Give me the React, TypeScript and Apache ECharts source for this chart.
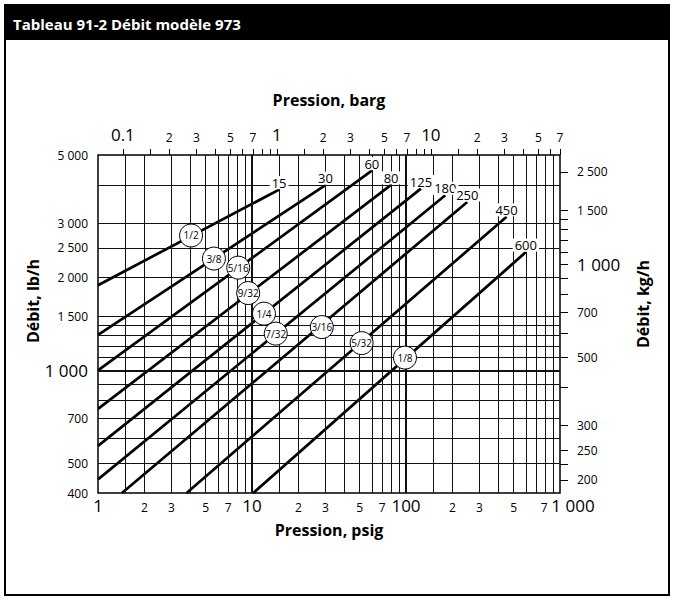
import React, { useEffect, useRef } from "react";
import * as echarts from "echarts";

const FONT = "'Open Sans', Lato, sans-serif";
const PSI_PER_BAR = 14.5038;
const LB_PER_KG = 2.20462;

// Axis ranges
const psigMin = 1;
const psigMax = 1000;
const lbMin = 400;
const lbMax = 5000;

// Grid lines (psig, lb/h)
const psigGridLines = [1.5, 2, 3, 4, 5, 6, 7, 8, 9, 10, 15, 20, 30, 40, 50, 60, 70, 80, 90, 100, 150, 200, 300, 400, 500, 600, 700, 800, 900];
const lbGridLines = [500, 600, 700, 800, 900, 1000, 1100, 1200, 1300, 1400, 1500, 2000, 2500, 3000, 4000];
const thickPsig = [10, 100];
const thickLb = [1000];

// Bottom axis (psig)
const psigLabelValues = [1, 2, 3, 5, 7, 10, 20, 30, 50, 70, 100, 200, 300, 500, 700];
const psigLabels = ["1", "2", "3", "5", "7", "10", "2", "3", "5", "7", "100", "2", "3", "5", "7"];
const psigEndLabelValue = 1000;
const psigEndLabel = "1 000";

// Top axis (barg)
const bargTickValues = [0.1, 0.15, 0.2, 0.3, 0.4, 0.5, 0.6, 0.7, 0.8, 0.9, 1, 1.5, 2, 3, 4, 5, 6, 7, 8, 9, 10, 15, 20, 30, 40, 50, 60, 70];
const bargLabelValues = [0.1, 0.2, 0.3, 0.5, 0.7, 1, 2, 3, 5, 7, 10, 20, 30, 50, 70];
const bargLabels = ["0.1", "2", "3", "5", "7", "1", "2", "3", "5", "7", "10", "2", "3", "5", "7"];

// Left axis (lb/h)
const lbLabelValues = [400, 500, 700, 1000, 1500, 2000, 2500, 3000, 5000];
const lbLabels = ["400", "500", "700", "1 000", "1 500", "2 000", "2 500", "3 000", "5 000"];

// Right axis (kg/h)
const kgTickValues = [200, 225, 250, 300, 400, 500, 600, 700, 800, 900, 1000, 1100, 1200, 1300, 1400, 1500, 2000];
const kgLabelValues = [200, 250, 300, 500, 700, 1000, 1500, 2000];
const kgLabels = ["200", "250", "300", "500", "700", "1 000", "1 500", "2 500"];

// Flow lines: start / end (psig, lb/h) and max-pressure labels
const endLabels = ["15", "30", "60", "80", "125", "180", "250", "450", "600"];
const startPsig = [1, 1, 1, 1, 1, 1, 1.43, 3.76, 10.2];
const startFlow = [1890, 1305, 1000, 750, 569, 443, 400, 400, 400];
const endPsig = [15, 30, 60, 80, 125, 180, 250, 450, 600];
const endFlow = [3860, 3990, 4450, 4000, 3890, 3700, 3520, 3150, 2420];

// Orifice markers
const orificeLabels = ["1/2", "3/8", "5/16", "9/32", "1/4", "7/32", "3/16", "5/32", "1/8"];
const orificePsig = [4.02, 5.66, 8.14, 9.45, 11.96, 14.26, 28.4, 51.5, 98.5];
const orificeFlow = [2740, 2306, 2155, 1782, 1528, 1316, 1382, 1226, 1100];

const lookup = (vals: number[], labels: string[]) => (v: number) => {
  let best = 0;
  let bd = Infinity;
  vals.forEach((x, i) => {
    const d = Math.abs(Math.log(x) - Math.log(v));
    if (d < bd) {
      bd = d;
      best = i;
    }
  });
  return { label: labels[best], index: best };
};

const isPow10 = (s: string) => ["0.1", "1", "10", "100", "1 000"].includes(s);

export default function App() {
  const ref = useRef<HTMLDivElement>(null);

  useEffect(() => {
    if (!ref.current) return;
    const chart = echarts.init(ref.current, undefined, { renderer: "svg" });

    const EPS = 1e-5;
    const bargMin = psigMin / PSI_PER_BAR;
    const bargMax = psigMax / PSI_PER_BAR;
    const clampB = (v: number) => Math.min(Math.max(v, bargMin * (1 + EPS)), bargMax * (1 - EPS));
    const clampP = (v: number) => Math.min(Math.max(v, psigMin * (1 + EPS)), psigMax * (1 - EPS));
    const bargTicksC = bargTickValues.map(clampB);
    const bargLabelsC = bargLabelValues.map(clampB);
    const psigLabelsC = psigLabelValues.map(clampP);
    const kgMin = lbMin / LB_PER_KG;
    const kgMax = lbMax / LB_PER_KG;

    const psigLook = lookup(psigLabelsC, psigLabels);
    const bargLook = lookup(bargLabelsC, bargLabels);
    const lbLook = lookup(lbLabelValues, lbLabels);
    const kgLook = lookup(kgLabelValues, kgLabels);

    const lineSeries = endLabels.map((name, i) => ({
      type: "line",
      name: "p" + name,
      xAxisIndex: 0,
      yAxisIndex: 0,
      data: [
        [startPsig[i], startFlow[i]],
        [endPsig[i], endFlow[i]],
      ],
      symbol: "none",
      silent: true,
      clip: true,
      lineStyle: { color: "#000", width: 2.7 },
      z: 3,
    }));

    const gridMarks: any[] = [
      ...psigGridLines.map((v) => ({
        xAxis: v,
        lineStyle: { color: "#111", width: thickPsig.includes(v) ? 2 : 1, type: "solid" },
      })),
      ...lbGridLines.map((v) => ({
        yAxis: v,
        lineStyle: { color: "#111", width: thickLb.includes(v) ? 2 : 1, type: "solid" },
      })),
    ];

    const labelCommon = { showMinLabel: true, showMaxLabel: true, hideOverlap: false };
    const bigStyle = { fontSize: 17, color: "#000", fontFamily: FONT };
    const smallStyle = { fontSize: 12, color: "#000", fontFamily: FONT };

    const option: any = {
      animation: false,
      backgroundColor: "#fff",
      textStyle: { fontFamily: FONT },
      grid: {
        left: 98,
        top: 155,
        width: 462,
        height: 338,
        show: true,
        borderColor: "#000",
        borderWidth: 1.5,
        backgroundColor: "transparent",
        z: 4,
      },
      xAxis: [
        {
          type: "log",
          logBase: 10,
          min: psigMin,
          max: psigMax,
          position: "bottom",
          axisLine: { show: false },
          axisTick: { show: false },
          splitLine: { show: false },
          minorTick: { show: false },
          axisLabel: {
            ...labelCommon,
            customValues: psigLabelsC,
            margin: 4,
            formatter: (v: number) => {
              const { label, index } = psigLook(v);
              if (index === psigLabels.length - 1) return "{smallR|" + label + "}";
              return isPow10(label) ? "{big|" + label + "}" : "{small|" + label + "}";
            },
            rich: {
              big: bigStyle,
              small: { ...smallStyle, padding: [4, 0, 0, 0] },
              smallR: { ...smallStyle, padding: [4, 0, 0, 16] },
            },
          },
        },
        {
          type: "log",
          logBase: 10,
          min: bargMin,
          max: bargMax,
          position: "top",
          axisLine: { show: false },
          axisTick: {
            show: true,
            inside: false,
            length: 6,
            customValues: bargTicksC,
            lineStyle: { color: "#000", width: 1 },
          },
          splitLine: { show: false },
          axisLabel: {
            ...labelCommon,
            customValues: bargLabelsC,
            margin: 12,
            verticalAlign: "bottom",
            formatter: (v: number) => {
              const { label, index } = bargLook(v);
              const big = index === 0 || label === "1" || label === "10";
              return big ? "{big|" + label + "}" : "{small|" + label + "}";
            },
            rich: { big: bigStyle, small: smallStyle },
          },
        },
        {
          type: "log",
          logBase: 10,
          min: psigMin,
          max: psigMax,
          position: "bottom",
          axisLine: { show: false },
          axisTick: { show: false },
          splitLine: { show: false },
          axisLabel: {
            ...labelCommon,
            customValues: [clampP(psigEndLabelValue)],
            margin: 4,
            formatter: () => "{bigR|" + psigEndLabel + "}",
            rich: { bigR: { ...bigStyle, padding: [0, 0, 0, 26] } },
          },
        },
      ],
      yAxis: [
        {
          type: "log",
          logBase: 10,
          min: lbMin,
          max: lbMax,
          position: "left",
          axisLine: { show: false },
          axisTick: { show: false },
          splitLine: { show: false },
          axisLabel: {
            ...labelCommon,
            customValues: lbLabelValues,
            margin: 10,
            formatter: (v: number) => {
              const { label } = lbLook(v);
              return label === "1 000" ? "{big|" + label + "}" : "{small|" + label + "}";
            },
            rich: { big: bigStyle, small: smallStyle },
          },
        },
        {
          type: "log",
          logBase: 10,
          min: kgMin,
          max: kgMax,
          position: "right",
          axisLine: { show: false },
          axisTick: {
            show: true,
            inside: false,
            length: 8,
            customValues: kgTickValues,
            lineStyle: { color: "#000", width: 1 },
          },
          splitLine: { show: false },
          axisLabel: {
            ...labelCommon,
            customValues: kgLabelValues,
            margin: 17,
            align: "left",
            formatter: (v: number) => {
              const { label } = kgLook(v);
              return label === "1 000" ? "{big|" + label + "}" : "{small|" + label + "}";
            },
            rich: { big: bigStyle, small: smallStyle },
          },
        },
      ],
      series: [
        {
          type: "line",
          name: "grid",
          xAxisIndex: 0,
          yAxisIndex: 0,
          data: [[psigMin, lbMin]],
          symbol: "none",
          silent: true,
          lineStyle: { width: 0, opacity: 0 },
          z: 1,
          markLine: {
            silent: true,
            symbol: ["none", "none"],
            label: { show: false },
            animation: false,
            data: gridMarks,
          },
        },
        ...lineSeries,
        {
          type: "scatter",
          name: "endLabels",
          xAxisIndex: 0,
          yAxisIndex: 0,
          data: endLabels.map((_, i) => [endPsig[i], endFlow[i]]),
          symbolSize: 1,
          itemStyle: { color: "transparent", opacity: 1 },
          silent: true,
          z: 6,
          label: {
            show: true,
            position: "top",
            distance: 0,
            formatter: (p: any) => endLabels[p.dataIndex],
            fontSize: 13,
            fontFamily: FONT,
            color: "#000",
            backgroundColor: "#fff",
            padding: [0, 2, 0, 2],
          },
        },
        {
          type: "scatter",
          name: "orifices",
          xAxisIndex: 0,
          yAxisIndex: 0,
          data: orificeLabels.map((_, i) => [orificePsig[i], orificeFlow[i]]),
          symbol: "circle",
          symbolSize: 23,
          itemStyle: { color: "#fff", borderColor: "#000", borderWidth: 1, opacity: 1 },
          silent: true,
          z: 7,
          label: {
            show: true,
            position: "inside",
            formatter: (p: any) => orificeLabels[p.dataIndex],
            fontSize: 10,
            fontFamily: FONT,
            color: "#000",
          },
        },
      ],
      graphic: [
        {
          type: "rect",
          shape: { x: 5, y: 5, width: 664, height: 590 },
          style: { fill: "none", stroke: "#000", lineWidth: 2 },
          silent: true,
          z: 10,
        },
        {
          type: "rect",
          shape: { x: 4, y: 4, width: 666, height: 36 },
          style: { fill: "#000" },
          silent: true,
          z: 10,
        },
        {
          type: "text",
          x: 13,
          y: 24,
          style: {
            text: "Tableau 91-2 Débit modèle 973",
            fill: "#fff",
            fontSize: 15,
            fontWeight: "bold",
            fontFamily: FONT,
            verticalAlign: "middle",
          },
          z: 11,
        },
        {
          type: "text",
          x: 329,
          y: 100,
          style: {
            text: "Pression, barg",
            fill: "#000",
            fontSize: 16,
            fontWeight: "bold",
            fontFamily: FONT,
            align: "center",
            verticalAlign: "middle",
          },
        },
        {
          type: "text",
          x: 329,
          y: 530,
          style: {
            text: "Pression, psig",
            fill: "#000",
            fontSize: 16,
            fontWeight: "bold",
            fontFamily: FONT,
            align: "center",
            verticalAlign: "middle",
          },
        },
        {
          type: "text",
          x: 33,
          y: 301,
          rotation: Math.PI / 2,
          style: {
            text: "Débit, lb/h",
            fill: "#000",
            fontSize: 16,
            fontWeight: "bold",
            fontFamily: FONT,
            align: "center",
            verticalAlign: "middle",
          },
        },
        {
          type: "text",
          x: 643,
          y: 304,
          rotation: Math.PI / 2,
          style: {
            text: "Débit, kg/h",
            fill: "#000",
            fontSize: 16,
            fontWeight: "bold",
            fontFamily: FONT,
            align: "center",
            verticalAlign: "middle",
          },
        },
      ],
    };

    chart.setOption(option);
    return () => chart.dispose();
  }, []);

  return (
    <div
      ref={ref}
      style={{ position: "absolute", left: 0, top: 0, width: 674, height: 601, background: "#fff" }}
    />
  );
}
